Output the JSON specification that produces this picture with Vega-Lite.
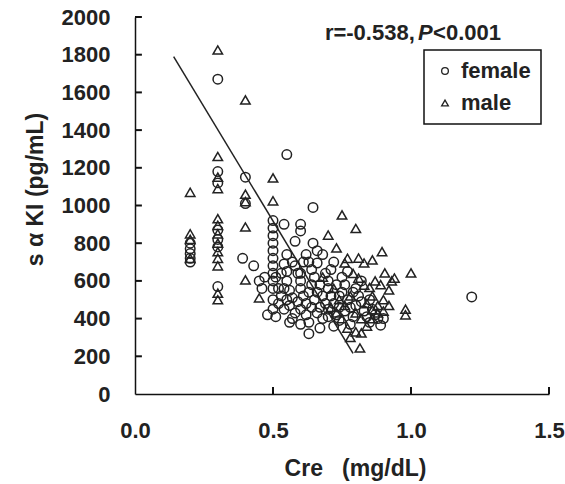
{
  "$schema": "https://vega.github.io/schema/vega-lite/v6.json",
  "width": 414,
  "height": 377,
  "autosize": {"type": "none"},
  "padding": {"left": 135, "top": 17, "right": 16, "bottom": 90},
  "background": "white",
  "config": {
    "view": {"stroke": null},
    "font": "Liberation Sans",
    "axis": {
      "grid": false,
      "domainColor": "#111",
      "domainWidth": 1.5,
      "ticks": false,
      "labelOverlap": false,
      "labelFlush": false,
      "labelBound": false,
      "labelFont": "Liberation Sans",
      "labelFontWeight": "bold",
      "labelFontSize": 22,
      "labelColor": "#222",
      "titleFont": "Liberation Sans",
      "titleFontWeight": "bold",
      "titleColor": "#222"
    },
    "axisY": {"labelOverlap": false},
    "axisQuantitative": {"labelOverlap": false},
    "legend": {
      "orient": "none",
      "legendX": 289,
      "legendY": 33,
      "strokeColor": "#111",
      "strokeWidth": 1.5,
      "padding": 10,
      "labelFont": "Liberation Sans",
      "labelFontWeight": "bold",
      "labelFontSize": 22,
      "labelColor": "#222",
      "symbolSize": 45,
      "symbolStrokeWidth": 1.3,
      "symbolStrokeColor": "#222",
      "symbolFillColor": "transparent",
      "rowPadding": 10,
      "labelOffset": 5
    }
  },
  "datasets": {
    "pts": [
      {"cre": 0.2, "aki": 800, "sex": "female"},
      {"cre": 0.2, "aki": 770, "sex": "female"},
      {"cre": 0.2, "aki": 745, "sex": "female"},
      {"cre": 0.2, "aki": 720, "sex": "female"},
      {"cre": 0.2, "aki": 700, "sex": "female"},
      {"cre": 0.3, "aki": 1670, "sex": "female"},
      {"cre": 0.3, "aki": 1180, "sex": "female"},
      {"cre": 0.3, "aki": 1120, "sex": "female"},
      {"cre": 0.3, "aki": 870, "sex": "female"},
      {"cre": 0.3, "aki": 820, "sex": "female"},
      {"cre": 0.3, "aki": 780, "sex": "female"},
      {"cre": 0.3, "aki": 570, "sex": "female"},
      {"cre": 0.4, "aki": 1150, "sex": "female"},
      {"cre": 0.4, "aki": 1010, "sex": "female"},
      {"cre": 0.39, "aki": 720, "sex": "female"},
      {"cre": 0.43, "aki": 680, "sex": "female"},
      {"cre": 0.45, "aki": 600, "sex": "female"},
      {"cre": 0.48, "aki": 420, "sex": "female"},
      {"cre": 0.5, "aki": 920, "sex": "female"},
      {"cre": 0.5, "aki": 880, "sex": "female"},
      {"cre": 0.5, "aki": 840, "sex": "female"},
      {"cre": 0.5, "aki": 800, "sex": "female"},
      {"cre": 0.5, "aki": 760, "sex": "female"},
      {"cre": 0.5, "aki": 720, "sex": "female"},
      {"cre": 0.5, "aki": 680, "sex": "female"},
      {"cre": 0.5, "aki": 640, "sex": "female"},
      {"cre": 0.5, "aki": 600, "sex": "female"},
      {"cre": 0.5, "aki": 560, "sex": "female"},
      {"cre": 0.55, "aki": 1270, "sex": "female"},
      {"cre": 0.54, "aki": 900, "sex": "female"},
      {"cre": 0.6, "aki": 900, "sex": "female"},
      {"cre": 0.6, "aki": 865, "sex": "female"},
      {"cre": 0.645, "aki": 990, "sex": "female"},
      {"cre": 0.645, "aki": 800, "sex": "female"},
      {"cre": 0.58, "aki": 810, "sex": "female"},
      {"cre": 0.55, "aki": 740, "sex": "female"},
      {"cre": 0.61, "aki": 700, "sex": "female"},
      {"cre": 0.66, "aki": 695, "sex": "female"},
      {"cre": 0.68, "aki": 740, "sex": "female"},
      {"cre": 0.52, "aki": 560, "sex": "female"},
      {"cre": 0.53, "aki": 520, "sex": "female"},
      {"cre": 0.52, "aki": 480, "sex": "female"},
      {"cre": 0.54, "aki": 450, "sex": "female"},
      {"cre": 0.55, "aki": 600, "sex": "female"},
      {"cre": 0.56, "aki": 550, "sex": "female"},
      {"cre": 0.57, "aki": 510, "sex": "female"},
      {"cre": 0.56, "aki": 470, "sex": "female"},
      {"cre": 0.58, "aki": 430, "sex": "female"},
      {"cre": 0.57, "aki": 400, "sex": "female"},
      {"cre": 0.59, "aki": 640, "sex": "female"},
      {"cre": 0.6, "aki": 600, "sex": "female"},
      {"cre": 0.6, "aki": 560, "sex": "female"},
      {"cre": 0.61, "aki": 520, "sex": "female"},
      {"cre": 0.62, "aki": 480, "sex": "female"},
      {"cre": 0.6, "aki": 450, "sex": "female"},
      {"cre": 0.62, "aki": 420, "sex": "female"},
      {"cre": 0.63, "aki": 380, "sex": "female"},
      {"cre": 0.63, "aki": 320, "sex": "female"},
      {"cre": 0.64, "aki": 660, "sex": "female"},
      {"cre": 0.65, "aki": 620, "sex": "female"},
      {"cre": 0.64, "aki": 580, "sex": "female"},
      {"cre": 0.66, "aki": 540, "sex": "female"},
      {"cre": 0.65, "aki": 500, "sex": "female"},
      {"cre": 0.67, "aki": 460, "sex": "female"},
      {"cre": 0.66, "aki": 430, "sex": "female"},
      {"cre": 0.68, "aki": 400, "sex": "female"},
      {"cre": 0.67, "aki": 350, "sex": "female"},
      {"cre": 0.69, "aki": 640, "sex": "female"},
      {"cre": 0.7, "aki": 600, "sex": "female"},
      {"cre": 0.7, "aki": 560, "sex": "female"},
      {"cre": 0.71, "aki": 520, "sex": "female"},
      {"cre": 0.72, "aki": 480, "sex": "female"},
      {"cre": 0.7, "aki": 450, "sex": "female"},
      {"cre": 0.73, "aki": 420, "sex": "female"},
      {"cre": 0.74, "aki": 390, "sex": "female"},
      {"cre": 0.72, "aki": 360, "sex": "female"},
      {"cre": 0.75, "aki": 620, "sex": "female"},
      {"cre": 0.76, "aki": 580, "sex": "female"},
      {"cre": 0.75, "aki": 540, "sex": "female"},
      {"cre": 0.77, "aki": 500, "sex": "female"},
      {"cre": 0.78, "aki": 460, "sex": "female"},
      {"cre": 0.76, "aki": 440, "sex": "female"},
      {"cre": 0.79, "aki": 410, "sex": "female"},
      {"cre": 0.78, "aki": 370, "sex": "female"},
      {"cre": 0.8, "aki": 560, "sex": "female"},
      {"cre": 0.81, "aki": 520, "sex": "female"},
      {"cre": 0.82, "aki": 490, "sex": "female"},
      {"cre": 0.8, "aki": 470, "sex": "female"},
      {"cre": 0.83, "aki": 440, "sex": "female"},
      {"cre": 0.84, "aki": 410, "sex": "female"},
      {"cre": 0.85, "aki": 380, "sex": "female"},
      {"cre": 0.86, "aki": 450, "sex": "female"},
      {"cre": 0.87, "aki": 420, "sex": "female"},
      {"cre": 0.88, "aki": 400, "sex": "female"},
      {"cre": 0.89, "aki": 365, "sex": "female"},
      {"cre": 0.55, "aki": 650, "sex": "female"},
      {"cre": 0.57, "aki": 700, "sex": "female"},
      {"cre": 0.62, "aki": 740, "sex": "female"},
      {"cre": 0.63, "aki": 700, "sex": "female"},
      {"cre": 0.66, "aki": 760, "sex": "female"},
      {"cre": 0.58, "aki": 680, "sex": "female"},
      {"cre": 0.53, "aki": 640, "sex": "female"},
      {"cre": 0.54, "aki": 690, "sex": "female"},
      {"cre": 0.51, "aki": 620, "sex": "female"},
      {"cre": 0.47, "aki": 620, "sex": "female"},
      {"cre": 0.46, "aki": 560, "sex": "female"},
      {"cre": 0.5, "aki": 500, "sex": "female"},
      {"cre": 0.5, "aki": 450, "sex": "female"},
      {"cre": 0.51, "aki": 410, "sex": "female"},
      {"cre": 0.56, "aki": 380, "sex": "female"},
      {"cre": 0.6, "aki": 370, "sex": "female"},
      {"cre": 0.7, "aki": 410, "sex": "female"},
      {"cre": 0.74, "aki": 460, "sex": "female"},
      {"cre": 0.74, "aki": 520, "sex": "female"},
      {"cre": 0.79, "aki": 540, "sex": "female"},
      {"cre": 0.73, "aki": 580, "sex": "female"},
      {"cre": 0.68, "aki": 520, "sex": "female"},
      {"cre": 0.69, "aki": 480, "sex": "female"},
      {"cre": 0.64, "aki": 460, "sex": "female"},
      {"cre": 0.59, "aki": 490, "sex": "female"},
      {"cre": 0.55, "aki": 500, "sex": "female"},
      {"cre": 0.54, "aki": 560, "sex": "female"},
      {"cre": 0.6, "aki": 640, "sex": "female"},
      {"cre": 0.67, "aki": 580, "sex": "female"},
      {"cre": 0.71, "aki": 660, "sex": "female"},
      {"cre": 0.63, "aki": 540, "sex": "female"},
      {"cre": 0.82, "aki": 600, "sex": "female"},
      {"cre": 0.77, "aki": 650, "sex": "female"},
      {"cre": 0.72, "aki": 700, "sex": "female"},
      {"cre": 0.85, "aki": 500, "sex": "female"},
      {"cre": 0.9, "aki": 400, "sex": "female"},
      {"cre": 1.22, "aki": 515, "sex": "female"},
      {"cre": 0.2, "aki": 1070, "sex": "male"},
      {"cre": 0.2, "aki": 850, "sex": "male"},
      {"cre": 0.2, "aki": 820, "sex": "male"},
      {"cre": 0.2, "aki": 720, "sex": "male"},
      {"cre": 0.3, "aki": 1825, "sex": "male"},
      {"cre": 0.3, "aki": 1260, "sex": "male"},
      {"cre": 0.3, "aki": 1150, "sex": "male"},
      {"cre": 0.3, "aki": 1090, "sex": "male"},
      {"cre": 0.3, "aki": 930, "sex": "male"},
      {"cre": 0.3, "aki": 895, "sex": "male"},
      {"cre": 0.3, "aki": 850, "sex": "male"},
      {"cre": 0.3, "aki": 800, "sex": "male"},
      {"cre": 0.3, "aki": 755, "sex": "male"},
      {"cre": 0.3, "aki": 720, "sex": "male"},
      {"cre": 0.3, "aki": 680, "sex": "male"},
      {"cre": 0.3, "aki": 535, "sex": "male"},
      {"cre": 0.3, "aki": 500, "sex": "male"},
      {"cre": 0.4, "aki": 1560, "sex": "male"},
      {"cre": 0.4, "aki": 1060, "sex": "male"},
      {"cre": 0.4, "aki": 1020, "sex": "male"},
      {"cre": 0.4, "aki": 886, "sex": "male"},
      {"cre": 0.4, "aki": 605, "sex": "male"},
      {"cre": 0.45, "aki": 510, "sex": "male"},
      {"cre": 0.5, "aki": 1146, "sex": "male"},
      {"cre": 0.5, "aki": 1025, "sex": "male"},
      {"cre": 0.7, "aki": 843, "sex": "male"},
      {"cre": 0.73, "aki": 775, "sex": "male"},
      {"cre": 0.73, "aki": 430, "sex": "male"},
      {"cre": 0.75, "aki": 950, "sex": "male"},
      {"cre": 0.76, "aki": 695, "sex": "male"},
      {"cre": 0.8, "aki": 878, "sex": "male"},
      {"cre": 0.81, "aki": 721, "sex": "male"},
      {"cre": 0.81, "aki": 615, "sex": "male"},
      {"cre": 0.83, "aki": 695, "sex": "male"},
      {"cre": 0.83, "aki": 578, "sex": "male"},
      {"cre": 0.85, "aki": 565, "sex": "male"},
      {"cre": 0.86, "aki": 711, "sex": "male"},
      {"cre": 0.86, "aki": 446, "sex": "male"},
      {"cre": 0.895, "aki": 755, "sex": "male"},
      {"cre": 0.905, "aki": 642, "sex": "male"},
      {"cre": 0.92, "aki": 552, "sex": "male"},
      {"cre": 0.94, "aki": 615, "sex": "male"},
      {"cre": 1.0, "aki": 642, "sex": "male"},
      {"cre": 0.98, "aki": 450, "sex": "male"},
      {"cre": 0.98, "aki": 420, "sex": "male"},
      {"cre": 0.82, "aki": 324, "sex": "male"},
      {"cre": 0.815, "aki": 244, "sex": "male"},
      {"cre": 0.72, "aki": 560, "sex": "male"},
      {"cre": 0.74, "aki": 500, "sex": "male"},
      {"cre": 0.76, "aki": 470, "sex": "male"},
      {"cre": 0.78, "aki": 520, "sex": "male"},
      {"cre": 0.8, "aki": 430, "sex": "male"},
      {"cre": 0.82, "aki": 400, "sex": "male"},
      {"cre": 0.84, "aki": 480, "sex": "male"},
      {"cre": 0.86, "aki": 520, "sex": "male"},
      {"cre": 0.88, "aki": 470, "sex": "male"},
      {"cre": 0.88, "aki": 430, "sex": "male"},
      {"cre": 0.9, "aki": 440, "sex": "male"},
      {"cre": 0.9, "aki": 500, "sex": "male"},
      {"cre": 0.92, "aki": 470, "sex": "male"},
      {"cre": 0.84, "aki": 360, "sex": "male"},
      {"cre": 0.8, "aki": 330, "sex": "male"},
      {"cre": 0.78, "aki": 300, "sex": "male"},
      {"cre": 0.86, "aki": 400, "sex": "male"},
      {"cre": 0.87, "aki": 600, "sex": "male"},
      {"cre": 0.89, "aki": 580, "sex": "male"},
      {"cre": 0.93, "aki": 600, "sex": "male"},
      {"cre": 0.79, "aki": 640, "sex": "male"},
      {"cre": 0.77, "aki": 720, "sex": "male"},
      {"cre": 0.68, "aki": 620, "sex": "male"},
      {"cre": 0.71, "aki": 460, "sex": "male"},
      {"cre": 0.75, "aki": 400, "sex": "male"},
      {"cre": 0.77, "aki": 350, "sex": "male"}
    ],
    "fit": [
      {"cre": 0.14, "aki": 1790},
      {"cre": 0.79, "aki": 215}
    ],
    "note": [
      {"cre": 0.688, "aki": 1915, "part": "r=-0.538,"},
      {"cre": 1.025, "aki": 1915, "part": "P"},
      {"cre": 1.08, "aki": 1915, "part": "<0.001"}
    ],
    "xticks": [{"cre": 0.5}, {"cre": 1.0}, {"cre": 1.5}],
    "yticks": [
      {"aki": 200}, {"aki": 400}, {"aki": 600}, {"aki": 800}, {"aki": 1000},
      {"aki": 1200}, {"aki": 1400}, {"aki": 1600}, {"aki": 1800}, {"aki": 2000}
    ]
  },
  "layer": [
    {
      "data": {"name": "pts"},
      "mark": {"type": "point", "filled": false, "stroke": "#222", "strokeWidth": 1.5, "size": 90, "opacity": 1},
      "encoding": {
        "x": {
          "field": "cre", "type": "quantitative",
          "scale": {"domain": [0, 1.5], "nice": false, "zero": false},
          "axis": {"values": [0, 0.5, 1.0, 1.5], "format": ".1f", "labelOverlap": false, "labelFlush": false, "labelPadding": 26, "title": "Cre\u00a0\u00a0\u00a0(mg/dL)", "titleFontSize": 23, "titlePadding": 16, "titleX": 220}
        },
        "y": {
          "field": "aki", "type": "quantitative",
          "scale": {"domain": [0, 2000], "nice": false},
          "axis": {"tickCount": 10, "format": "d", "labelOverlap": false, "labelFlush": false, "labelPadding": 25, "title": "s α KI (pg/mL)", "titleFontSize": 23, "titlePadding": 14, "titleY": 172}
        },
        "shape": {
          "field": "sex", "type": "nominal",
          "scale": {"domain": ["female", "male"], "range": ["circle", "triangle-up"]},
          "legend": {"title": null}
        }
      }
    },
    {
      "data": {"name": "xticks"},
      "mark": {"type": "rule", "color": "#111", "strokeWidth": 2},
      "encoding": {
        "x": {"field": "cre", "type": "quantitative"},
        "y": {"datum": 0, "type": "quantitative"},
        "y2": {"datum": 37}
      }
    },
    {
      "data": {"name": "yticks"},
      "mark": {"type": "rule", "color": "#111", "strokeWidth": 2},
      "encoding": {
        "y": {"field": "aki", "type": "quantitative"},
        "x": {"datum": 0, "type": "quantitative"},
        "x2": {"datum": 0.025}
      }
    },
    {
      "data": {"name": "fit"},
      "mark": {"type": "line", "color": "#222", "strokeWidth": 1.5},
      "encoding": {
        "x": {"field": "cre", "type": "quantitative"},
        "y": {"field": "aki", "type": "quantitative"}
      }
    },
    {
      "data": {"name": "note"},
      "transform": [{"filter": "datum.part != 'P'"}],
      "mark": {"type": "text", "align": "left", "baseline": "middle", "fontSize": 22, "fontWeight": "bold", "color": "#222", "font": "Liberation Sans"},
      "encoding": {"x": {"field": "cre", "type": "quantitative"}, "y": {"field": "aki", "type": "quantitative"}, "text": {"field": "part"}}
    },
    {
      "data": {"name": "note"},
      "transform": [{"filter": "datum.part == 'P'"}],
      "mark": {"type": "text", "align": "left", "baseline": "middle", "fontSize": 22, "fontWeight": "bold", "fontStyle": "italic", "color": "#222", "font": "Liberation Sans"},
      "encoding": {"x": {"field": "cre", "type": "quantitative"}, "y": {"field": "aki", "type": "quantitative"}, "text": {"field": "part"}}
    }
  ]
}
